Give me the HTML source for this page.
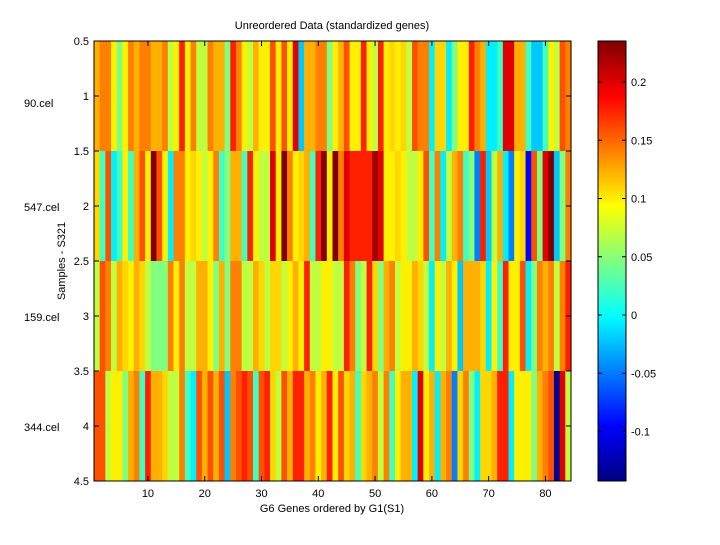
<!DOCTYPE html>
<html><head><meta charset="utf-8"><style>
body{margin:0;background:#fff;}
svg text{font-family:"Liberation Sans",sans-serif;font-size:11px;fill:#000;}
</style></head><body>
<svg id="s" width="720" height="540" xmlns="http://www.w3.org/2000/svg">
<rect width="720" height="540" fill="#fff"/>
<g id="cells"></g>
<rect x="94" y="41" width="477" height="440" fill="none" stroke="#000" stroke-width="1"/>
<defs><linearGradient id="jet" x1="0" y1="1" x2="0" y2="0">
<stop offset="0" stop-color="#000080"/><stop offset="0.125" stop-color="#0000ff"/><stop offset="0.375" stop-color="#00ffff"/><stop offset="0.625" stop-color="#ffff00"/><stop offset="0.875" stop-color="#ff0000"/><stop offset="1" stop-color="#800000"/></linearGradient></defs>
<rect x="598" y="41" width="28" height="440" fill="url(#jet)" stroke="#000"/>
<g id="ticks" stroke="#000"></g>
<text x="332" y="29" text-anchor="middle">Unreordered Data (standardized genes)</text>
<text x="332" y="512" text-anchor="middle">G6 Genes ordered by G1(S1)</text>
<text transform="translate(65,261) rotate(-90)" text-anchor="middle">Samples - S321</text>
<text x="24" y="107">90.cel</text>
<text x="24" y="211">547.cel</text>
<text x="24" y="321">159.cel</text>
<text x="24" y="431">344.cel</text>
<g id="lbl"></g>
</svg>
<script>
var C={Y:"#fff000",G:"#ffd700",O:"#ffb000",Or:"#ff8000",R2:"#ff5000",R:"#ff2000",DR:"#e00000",K:"#800000",A:"#a00000",YG:"#c0ff40",LG:"#80ff80",AG:"#40ffc0",C:"#00f0ff",SB:"#00c8ff",B:"#0080ff",BL:"#0000ff",NV:"#000090"};
var rows=[
"O Or Or Y LG Y Or O Or Or O O Or YG Y R Y Or YG YG Or O O LG R Or Y YG O Y Y R2 Y R2 Y DR SB O O Or Or LG Y O R2 Y Y R Y YG R Y G Y G YG R2 Or Or C G G C LG Y Y R Or O C C AG DR DR O O AG SB SB AG Y YG R2 Or",
"G AG R2 C AG Y AG O R2 Y K R2 Y C Or Or Y G Y YG Y Or AG LG O O AG R Y YG YG DR Y K Or Y G O AG R K Y K Or DR R R R R A DR Y Y G Y YG YG Y R2 AG Or C YG O Or AG LG B R SB YG O C B Y G BL R2 LG DR K SB LG Or",
"YG R2 Or YG O G Y O G YG LG LG LG Or Y Or YG YG O O Y LG O LG Or Or YG YG O G YG G G YG Y O Y R YG YG Y Y YG YG R Or LG YG R G LG O Or YG Y Y O G YG C Y YG O Y SB O O O G C Y AG R Y Y R2 C LG Or O Or YG Or R",
"R2 R2 YG Y Y LG O Or AG R O O G YG YG Or AG C R2 O R2 O R2 SB Or R2 R R2 AG R2 R G YG R2 O R R O Or Y O R Y R2 G O AG G O Or YG Or AG Y O O C DR Y O C O Or B G Or LG C G G O R R C Y Y Y LG O Or R2 NV DR YG"];
var g=document.getElementById("cells"),h="";
var w=477/84,rh=110;
rows.forEach(function(r,i){var a=r.split(" ");for(var j=0;j<84;j++){var c=C[a[j]]||"#ffd700";h+='<rect x="'+(94+j*w).toFixed(2)+'" y="'+(41+i*rh)+'" width="'+(w+0.6).toFixed(2)+'" height="'+rh+'" fill="'+c+'"/>';}});
g.innerHTML=h;
var t="",l="";
var ys=["0.5","1","1.5","2","2.5","3","3.5","4","4.5"];
for(var i=0;i<9;i++){var y=41+i*55;t+='<line x1="94" y1="'+y+'" x2="99" y2="'+y+'"/><line x1="571" y1="'+y+'" x2="566" y2="'+y+'"/>';l+='<text x="89" y="'+(y+4)+'" text-anchor="end">'+ys[i]+'</text>';}
for(var k=10;k<=80;k+=10){var x=94+(k-0.5)*w;t+='<line x1="'+x+'" y1="481" x2="'+x+'" y2="476"/><line x1="'+x+'" y1="41" x2="'+x+'" y2="46"/>';l+='<text x="'+x+'" y="497" text-anchor="middle">'+k+'</text>';}
var cb=[["0.2",0.2],["0.15",0.15],["0.1",0.1],["0.05",0.05],["0",0],["-0.05",-0.05],["-0.1",-0.1]];
cb.forEach(function(c){var y=315-c[1]*1165;t+='<line x1="626" y1="'+y+'" x2="622" y2="'+y+'"/><line x1="598" y1="'+y+'" x2="602" y2="'+y+'"/>';l+='<text x="631" y="'+(y+4)+'">'+c[0]+'</text>';});
document.getElementById("ticks").innerHTML=t;
document.getElementById("lbl").innerHTML=l;
</script>
</body></html>
